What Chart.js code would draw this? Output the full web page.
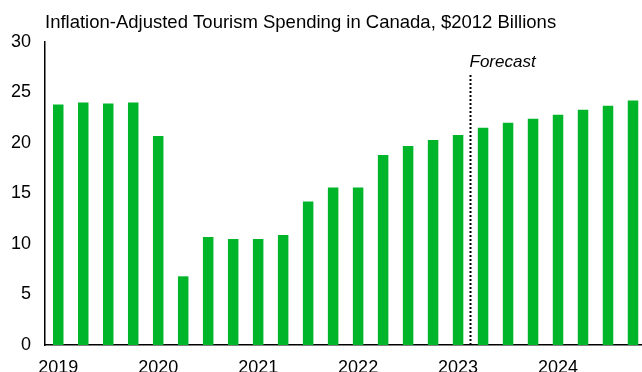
<!DOCTYPE html>
<html>
<head>
<meta charset="utf-8">
<script src="https://cdn.jsdelivr.net/npm/chart.js@4/dist/chart.umd.min.js"></script>
<style>
  html, body { margin: 0; padding: 0; background: #fff; }
  #wrap { width: 642px; height: 372px; }
</style>
</head>
<body>
<div id="wrap"><canvas id="tourism-chart" width="642" height="372"></canvas></div>
<script>
// quarterly spending, 2019Q1 .. 2024Q4 ($2012 billions)
let quarters = [
  "2019Q1", "2019Q2", "2019Q3", "2019Q4",
  "2020Q1", "2020Q2", "2020Q3", "2020Q4",
  "2021Q1", "2021Q2", "2021Q3", "2021Q4",
  "2022Q1", "2022Q2", "2022Q3", "2022Q4",
  "2023Q1", "2023Q2", "2023Q3", "2023Q4",
  "2024Q1", "2024Q2", "2024Q3", "2024Q4",
];
let spending = [
  23.8, 24.0, 23.9, 24.0,
  20.7, 6.8, 10.7, 10.5,
  10.5, 10.9, 14.2, 15.6,
  15.6, 18.8, 19.7, 20.3,
  20.8, 21.5, 22.0, 22.4,
  22.8, 23.3, 23.7, 24.2,
];
let yearLabels = ["2019", "2020", "2021", "2022", "2023", "2024"];
let yTicks = [0, 5, 10, 15, 20, 25, 30];
let forecastStart = 17; // first forecast quarter (2023Q2)

let barColor = "#00b52a";
let fontName = "'Liberation Sans', Arial, sans-serif";

let points = quarters.map((q, i) => ({ x: i, y: spending[i] }));

// dotted divider + "Forecast" label
const forecastMarker = {
  id: "forecastMarker",
  afterDatasetsDraw(chart) {
    let c = chart.ctx;
    let xs = chart.scales.x;
    let ys = chart.scales.y;
    let x = Math.round(xs.getPixelForValue(forecastStart - 0.5)) - 0.5;
    c.save();
    c.strokeStyle = "#000";
    c.lineWidth = 2;
    c.setLineDash([2, 2]);
    c.beginPath();
    c.moveTo(x, 75);
    c.lineTo(x, ys.getPixelForValue(0));
    c.stroke();
    c.setLineDash([]);
    c.fillStyle = "#000";
    c.font = "italic 17px " + fontName;
    c.textBaseline = "middle";
    c.fillText("Forecast", x - 1, 62);
    c.restore();
  },
};

let ctx = document.getElementById("tourism-chart").getContext("2d");
new Chart(ctx, {
  type: "bar",
  data: {
    datasets: [
      {
        data: points,
        backgroundColor: barColor,
        borderWidth: 0,
        barPercentage: 0.42,
        categoryPercentage: 1,
      },
    ],
  },
  options: {
    responsive: false,
    animation: false,
    layout: { padding: 0 },
    plugins: {
      legend: { display: false },
      tooltip: { enabled: false },
      title: {
        display: true,
        text: "Inflation-Adjusted Tourism Spending in Canada, $2012 Billions",
        align: "start",
        fullSize: false,
        color: "#000",
        font: { family: fontName, size: 18.5, weight: "normal" },
        padding: { top: 12, bottom: 7.8 },
      },
    },
    scales: {
      x: {
        type: "linear",
        min: -0.53,
        max: 23.36,
        offset: false,
        grid: { display: false, drawTicks: false },
        border: { display: true, color: "#000", width: 1.5 },
        afterBuildTicks: (scale) => {
          scale.ticks = yearLabels.map((y, i) => ({ value: i * 4 }));
        },
        afterFit: (scale) => {
          scale.height = 27;
        },
        ticks: {
          color: "#000",
          font: { family: fontName, size: 18 },
          padding: 12,
          maxRotation: 0,
          autoSkip: false,
          callback: (value) => yearLabels[value / 4],
        },
      },
      y: {
        min: 0,
        max: 30,
        grid: { display: false, drawTicks: false },
        border: { display: true, color: "#000", width: 1.5 },
        afterBuildTicks: (scale) => {
          scale.ticks = yTicks.map((v) => ({ value: v }));
        },
        afterFit: (scale) => {
          scale.width = 45;
        },
        ticks: {
          color: "#000",
          font: { family: fontName, size: 18 },
          padding: 14,
        },
      },
    },
  },
  plugins: [forecastMarker],
});
</script>
</body>
</html>
